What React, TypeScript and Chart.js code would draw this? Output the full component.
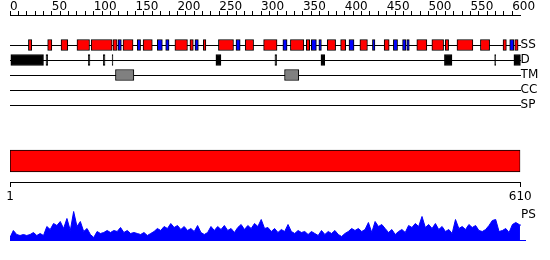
import React, { useEffect, useRef } from 'react';
import { Chart, registerables } from 'chart.js';

Chart.register(...registerables);

const FONT = "'DejaVu Sans', sans-serif";

// ---- data ----
const proteinLength = 610;
const trackLabels = ['', '', 'SS', 'D', 'TM', 'CC', 'SP'];
const rulerLabels = [0, 50, 100, 150, 200, 250, 300, 350, 400, 450, 500, 550, 600];
const rulerMinorStep = 10;
const bottomTicks = [1, 610];
const psLabel = 'PS';

// secondary structure: helices (red) and strands (blue), residue ranges
const helixRanges: [number, number][] = [
  [22, 26], [45, 50], [61, 69], [80, 95], [97, 122], [123, 128], [135, 147], [159, 170],
  [197, 212], [215, 219], [231, 234], [249, 267], [281, 291], [303, 319], [335, 351], [354, 358],
  [379, 389], [395, 401], [418, 427], [447, 453], [486, 498], [504, 518], [520, 524], [534, 553],
  [562, 573], [589, 593], [603, 607],
];
const strandRanges: [number, number][] = [
  [129, 133], [152, 156], [176, 182], [186, 190], [221, 225], [270, 275], [326, 331], [360, 366],
  [369, 372], [405, 411], [433, 436], [458, 463], [469, 473], [474, 477], [597, 602],
];
// disorder (D)
const disorderRanges: [number, number][] = [
  [1, 40], [43, 45], [93.5, 95.5], [111.5, 113.5], [122, 123], [246, 252], [316.5, 318.5],
  [371.5, 376], [519, 528], [579, 580.2], [602, 610],
];
// transmembrane (TM)
const tmRanges: [number, number][] = [[126, 148], [328, 345]];

// PS profile, residues 1,5,9,...,609 then 610
const psStep = 4;
const psValues = [
  3, 10, 6, 5, 6, 5, 6, 8, 5, 7, 5, 14, 11, 17, 15, 19, 12, 22, 10, 29,
  14, 19, 9, 12, 6, 3, 9, 7, 8, 10, 8, 10, 9, 13, 8, 10, 7, 8, 7, 6,
  8, 5, 7, 9, 12, 10, 14, 12, 17, 13, 15, 11, 14, 10, 12, 9, 15, 8, 6, 8,
  14, 10, 14, 11, 15, 10, 12, 8, 13, 16, 11, 15, 12, 17, 14, 21, 12, 13, 9, 12,
  8, 11, 9, 16, 9, 7, 10, 8, 9, 6, 9, 7, 5, 10, 6, 9, 7, 10, 6, 4,
  7, 9, 12, 10, 12, 9, 11, 18, 8, 19, 14, 16, 12, 8, 11, 6, 9, 11, 8, 15,
  13, 17, 14, 24, 13, 16, 12, 17, 11, 14, 9, 11, 7, 21, 12, 14, 11, 16, 13, 15,
  10, 9, 11, 15, 20, 21, 9, 10, 12, 8, 16, 18, 16,
];
const psLastValue = 15;

const rulerTickValues = Array.from({ length: 600 / rulerMinorStep + 1 }, (_, i) => i * rulerMinorStep);

function rangeDataset(ranges: [number, number][], track: string, color: string) {
  return {
    data: ranges.map(([s, e]) => ({ x: [s, e], y: track })),
    backgroundColor: color,
    borderColor: '#000000',
    borderWidth: 1,
    borderSkipped: false,
    barThickness: 11,
    grouped: false,
  };
}

export default function App() {
  const aRef = useRef<HTMLCanvasElement>(null);
  const bRef = useRef<HTMLCanvasElement>(null);
  const cRef = useRef<HTMLCanvasElement>(null);

  useEffect(() => {
    const charts: Chart[] = [];
    const font = { family: FONT, size: 12 };

    charts.push(
      new Chart(aRef.current as HTMLCanvasElement, {
        type: 'bar',
        data: {
          datasets: [
            rangeDataset(helixRanges, 'SS', '#ff0000'),
            rangeDataset(strandRanges, 'SS', '#0000ff'),
            rangeDataset(disorderRanges, 'D', '#000000'),
            rangeDataset(tmRanges, 'TM', '#808080'),
          ] as any,
        },
        options: {
          indexAxis: 'y',
          responsive: false,
          animation: false,
          layout: { padding: { left: 10, right: 0, top: 0, bottom: 155 } },
          plugins: { legend: { display: false }, tooltip: { enabled: false } },
          scales: {
            x: {
              type: 'linear',
              position: 'top',
              min: 0,
              max: proteinLength,
              afterBuildTicks: (axis: any) => {
                axis.ticks = rulerTickValues.map((v) => ({ value: v }));
              },
              afterFit: (axis: any) => {
                axis.height = 15;
              },
              grid: { drawOnChartArea: false, drawTicks: true, tickLength: 4, color: '#000', lineWidth: 1 },
              border: { display: true, color: '#000', width: 1 },
              ticks: {
                autoSkip: false,
                maxRotation: 0,
                align: 'start',
                padding: -3,
                color: '#000',
                font,
                callback: (v: any) => (rulerLabels.includes(Number(v)) ? String(v) : ''),
              },
            },
            y: {
              type: 'category',
              labels: trackLabels,
              position: 'right',
              offset: false,
              afterFit: (axis: any) => {
                axis.width = 29.4;
              },
              grid: {
                offset: false,
                drawTicks: false,
                lineWidth: 1,
                color: (ctx: any) => (trackLabels[ctx.index] ? '#000' : 'rgba(0,0,0,0)'),
              },
              border: { display: false },
              ticks: { padding: 0, color: '#000', font, autoSkip: false },
            },
          },
        } as any,
      })
    );

    charts.push(
      new Chart(bRef.current as HTMLCanvasElement, {
        type: 'bar',
        data: {
          labels: ['seq'],
          datasets: [
            {
              data: [{ x: [1, proteinLength], y: 'seq' }],
              backgroundColor: '#ff0000',
              borderColor: '#000',
              borderWidth: 1,
              borderSkipped: false,
              barThickness: 22,
            },
          ] as any,
        },
        options: {
          indexAxis: 'y',
          responsive: false,
          animation: false,
          layout: { padding: { left: 10, right: 29.7, top: 140, bottom: 58 } },
          plugins: { legend: { display: false }, tooltip: { enabled: false } },
          scales: {
            x: {
              type: 'linear',
              position: 'bottom',
              min: 1,
              max: proteinLength,
              afterBuildTicks: (axis: any) => {
                axis.ticks = bottomTicks.map((v) => ({ value: v }));
              },
              afterFit: (axis: any) => {
                axis.height = 20;
              },
              grid: { drawOnChartArea: false, tickLength: 5, color: '#000', lineWidth: 1 },
              border: { display: true, color: '#000', width: 1 },
              ticks: { autoSkip: false, maxRotation: 0, padding: 3, color: '#000', font },
            },
            y: { type: 'category', labels: ['seq'], display: false, offset: true },
          },
        } as any,
      })
    );

    const psPoints = psValues.map((v, i) => ({ x: 1 + i * psStep, y: v }));
    psPoints.push({ x: proteinLength, y: psLastValue });

    charts.push(
      new Chart(cRef.current as HTMLCanvasElement, {
        type: 'line',
        data: {
          datasets: [
            {
              data: psPoints,
              borderColor: '#0000ff',
              backgroundColor: '#0000ff',
              borderWidth: 1,
              pointRadius: 0,
              fill: 'origin',
              tension: 0,
            },
          ],
        },
        options: {
          responsive: false,
          animation: false,
          layout: { padding: { left: 10, right: 25, top: 205.5, bottom: 19.5 } },
          plugins: { legend: { display: false }, tooltip: { enabled: false } },
          scales: {
            x: {
              type: 'linear',
              min: 1,
              max: 616,
              afterFit: (axis: any) => {
                axis.height = 0;
              },
              grid: { display: false, drawTicks: false },
              ticks: { display: false },
              border: { display: true, color: '#0000ff', width: 1 },
            },
            y: { min: 0, max: 35, display: false },
          },
        } as any,
        plugins: [
          {
            id: 'psLabel',
            afterDraw(chart: any) {
              const { ctx, chartArea } = chart;
              ctx.save();
              ctx.font = `12px ${FONT}`;
              ctx.fillStyle = '#000';
              ctx.textAlign = 'left';
              ctx.textBaseline = 'middle';
              ctx.fillText(psLabel, chartArea.right - 4, chartArea.top + 9);
              ctx.restore();
            },
          },
        ],
      })
    );

    return () => charts.forEach((c) => c.destroy());
  }, []);

  const cs: React.CSSProperties = { position: 'absolute', left: 0, top: 0 };
  return (
    <div style={{ position: 'fixed', left: 0, top: 0, width: 550, height: 260, background: '#fff' }}>
      <canvas ref={aRef} width={550} height={260} style={cs} />
      <canvas ref={bRef} width={550} height={260} style={cs} />
      <canvas ref={cRef} width={550} height={260} style={cs} />
    </div>
  );
}
